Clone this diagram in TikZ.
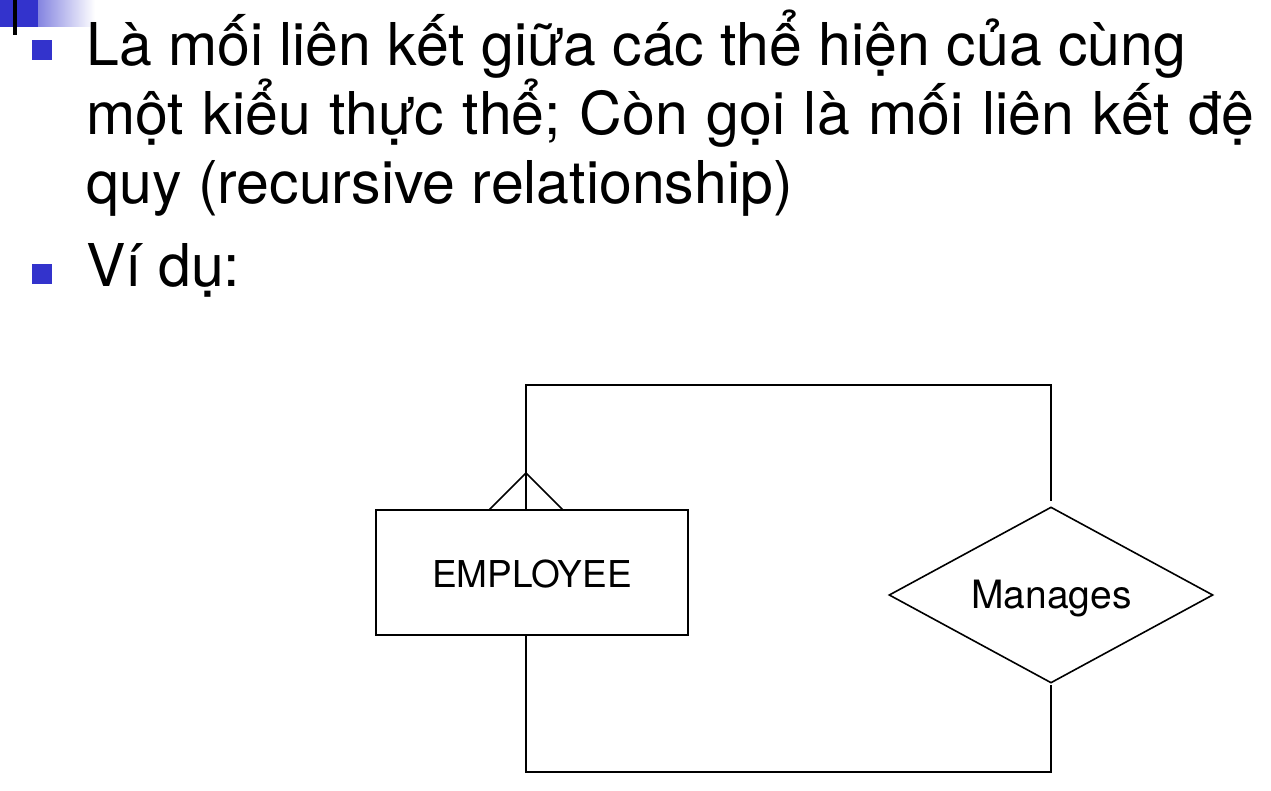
\documentclass[tikz,border=0pt]{standalone}
\usepackage{fontspec}
\setmainfont{TeX Gyre Heros}
\usetikzlibrary{shapes.geometric}
\definecolor{bulletblue}{RGB}{51,51,204}
\begin{document}
\begin{tikzpicture}[x=1pt,y=-1pt,
  line/.style={draw=black,line width=1.6pt},
  bodytext/.style={anchor=base west,inner sep=0pt,font=\fontsize{59}{70}\selectfont},
  bulletsq/.style={fill=bulletblue,draw=none},
  lbl/.style={anchor=base,inner sep=0pt}]
\useasboundingbox (0,0) rectangle (1271,791);
% top-left decoration
\shade[left color=bulletblue,right color=white] (0,0) rectangle (95,27);
\fill[bulletblue] (0,0) rectangle (38,27);
\fill[black] (13,0) rectangle (17,35);
% bullets
\fill[bulletsq] (32,40) rectangle (52,60);
\fill[bulletsq] (32,264) rectangle (52,284);
% text
\node[bodytext] (t1) at (86,66) {Là mối liên kết giữa các thể hiện của cùng};
\node[bodytext] (t2) at (86,135) {\spaceskip=\dimexpr\fontdimen2\font+2.3pt\relax một kiểu thực thể; Còn gọi là mối liên kết đệ};
\node[bodytext] (t3) at (86,204) {quy (recursive relationship)};
\node[bodytext] (t4) at (86,287) {Ví dụ:};
% diagram
\node[draw,line width=1.6pt,minimum width=312pt,minimum height=125pt,inner sep=0pt] (emp) at (532,572.5) {};
\node[lbl,font=\fontsize{37}{44}\selectfont] (empl) at (532,587) {EMPLOYEE};
\node[diamond,draw,line width=1.6pt,minimum width=324pt,minimum height=176pt,inner sep=0pt,aspect=1.84] (man) at (1051,595) {};
\node[lbl,font=\fontsize{39}{46}\selectfont] (manl) at (1051.5,608) {Manages};
\coordinate (apex) at (526,473);
\coordinate (empTop) at (526,510);
\coordinate (footL) at (489,510);
\coordinate (footR) at (563,510);
\coordinate (tl) at (526,385);
\coordinate (tr) at (1051,385);
\coordinate (rtop) at (1051,501);
\coordinate (rbot) at (1051,685);
\coordinate (br) at (1051,772);
\coordinate (bl) at (526,772);
\coordinate (empBot) at (526,635);
\draw[line] (empTop) -- (tl) -- (tr) -- (rtop);
\draw[line] (footL) -- (apex) -- (footR);
\draw[line] (rbot) -- (br) -- (bl) -- (empBot);
\end{tikzpicture}
\end{document}
